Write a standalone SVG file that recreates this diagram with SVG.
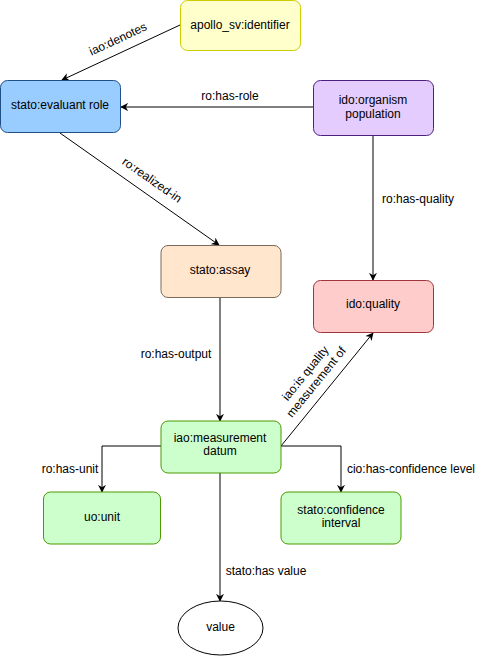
<svg xmlns="http://www.w3.org/2000/svg" width="481" height="656" viewBox="0 0 481 656">
<style>
text{font-family:"Liberation Sans",Arial,sans-serif;font-size:12px;fill:#000;text-anchor:middle}
.e{fill:none;stroke:#000;stroke-width:1}
</style>
<defs>
<marker id="a" viewBox="0 0 10 10" refX="9" refY="5" markerWidth="8" markerHeight="8" markerUnits="userSpaceOnUse" orient="auto">
<path d="M0,0 L10,5 L0,10 L3,5 Z" fill="#000"/>
</marker>
</defs>
<rect width="481" height="656" fill="#fff"/>
<g id="connectors">
<path class="e" d="M180,25 L62,80" marker-end="url(#a)"/>
<path class="e" d="M313,107 L121,107" marker-end="url(#a)"/>
<path class="e" d="M60,133 L219,245" marker-end="url(#a)"/>
<path class="e" d="M373,135 L373,280" marker-end="url(#a)"/>
<path class="e" d="M220,298 L220,421" marker-end="url(#a)"/>
<path class="e" d="M281,446 L373,333" marker-end="url(#a)"/>
<path class="e" d="M161,446 L102,446 L102,492" marker-end="url(#a)"/>
<path class="e" d="M281,446 L341,446 L341,492" marker-end="url(#a)"/>
<path class="e" d="M220,473 L220,601" marker-end="url(#a)"/>
<text transform="translate(118,39) rotate(-25)" y="4">iao:denotes</text>
<text x="230" y="100">ro:has-role</text>
<text transform="translate(152,180) rotate(35)" y="4">ro:realized-in</text>
<text x="418" y="203">ro:has-quality</text>
<text x="176" y="358">ro:has-output</text>
<g transform="translate(310,377) rotate(-51)"><text y="-2">iao:is quality</text><text y="12">measurement of</text></g>
<text x="70" y="473">ro:has-unit</text>
<text x="411" y="473">cio:has-confidence level</text>
<text x="266" y="575">stato:has value</text>
</g>
<g id="identifier"><rect x="180.5" y="0.5" width="120" height="50" rx="7" fill="#ffffcc" stroke="#cccc00"/><text x="240" y="29">apollo_sv:identifier</text></g>
<g id="evaluant-role"><rect x="0.5" y="80.5" width="120" height="52" rx="7" fill="#99ccff" stroke="#1f4f85"/><text x="60" y="109">stato:evaluant role</text></g>
<g id="organism-population"><rect x="313.5" y="80.5" width="120" height="55" rx="7" fill="#e5ccff" stroke="#4c1f80"/><text x="373" y="104">ido:organism</text><text x="373" y="118">population</text></g>
<g id="assay"><rect x="161" y="245.5" width="120" height="52" rx="7" fill="#ffe6cc" stroke="#7a6a5a"/><text x="220" y="274">stato:assay</text></g>
<g id="quality"><rect x="313.5" y="280.5" width="120" height="52" rx="7" fill="#ffcccc" stroke="#a0363c"/><text x="373" y="308">ido:quality</text></g>
<g id="measurement-datum"><rect x="161" y="421" width="120" height="52" rx="7" fill="#ccffcc" stroke="#4d9900"/><text x="220" y="442">iao:measurement</text><text x="220" y="455">datum</text></g>
<g id="unit"><rect x="43.5" y="492" width="117" height="52" rx="7" fill="#ccffcc" stroke="#4d9900"/><text x="102" y="521">uo:unit</text></g>
<g id="confidence-interval"><rect x="281" y="492" width="120" height="52" rx="7" fill="#ccffcc" stroke="#4d9900"/><text x="341" y="514">stato:confidence</text><text x="341" y="527">interval</text></g>
<g id="value"><ellipse cx="220.5" cy="628" rx="42.5" ry="27" fill="#fff" stroke="#000"/><text x="220.5" y="631">value</text></g>
</svg>
